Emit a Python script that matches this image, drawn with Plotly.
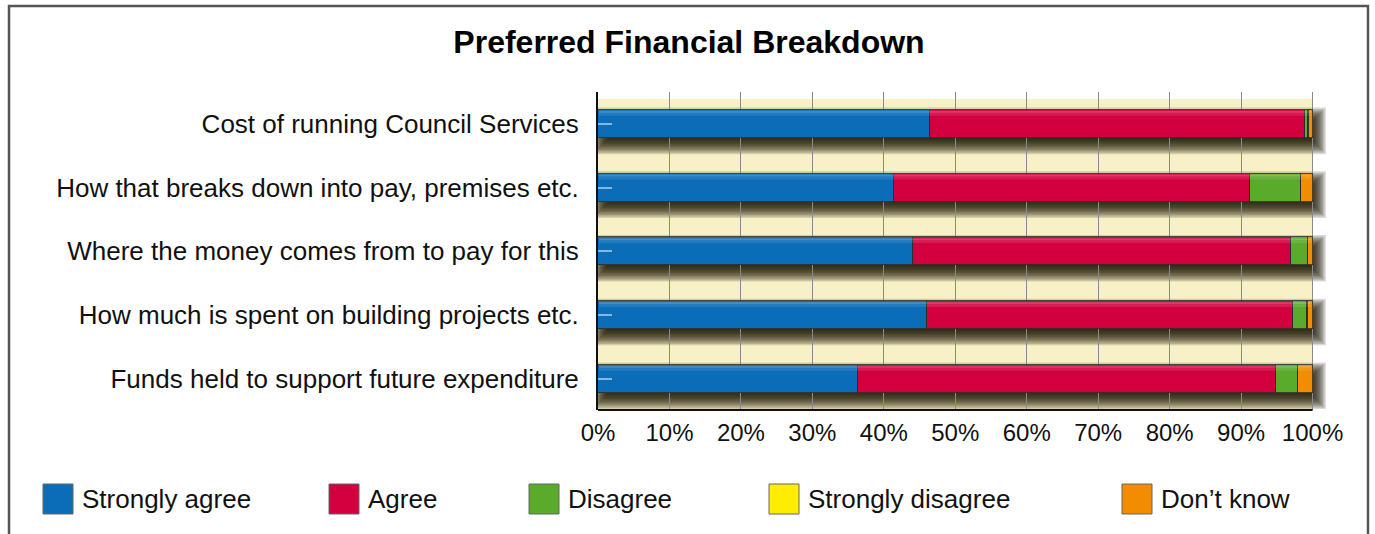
import plotly.graph_objects as go

categories = [
    "Cost of running Council Services",
    "How that breaks down into pay, premises etc.",
    "Where the money comes from to pay for this",
    "How much is spent on building projects etc.",
    "Funds held to support future expenditure",
]
series_names = ["Strongly agree", "Agree", "Disagree", "Strongly disagree", "Don\u2019t know"]
strongly_agree = [46.5, 41.4, 44.1, 46.0, 36.4]
agree = [52.4, 49.9, 52.9, 51.2, 58.5]
disagree = [0.5, 7.1, 2.3, 2.0, 3.0]
strongly_disagree = [0.1, 0.0, 0.1, 0.1, 0.0]
dont_know = [0.5, 1.6, 0.6, 0.7, 2.1]
x_tick_values = [0, 10, 20, 30, 40, 50, 60, 70, 80, 90, 100]
x_tick_labels = ["0%", "10%", "20%", "30%", "40%", "50%", "60%", "70%", "80%", "90%", "100%"]

series_values = [strongly_agree, agree, disagree, strongly_disagree, dont_know]
colors = ["#0b6db7", "#d2003f", "#5aab2b", "#ffed00", "#f28c00"]

W, H = 1375, 534
ML, MR, MT, MB = 598, 41, 92, 124
XMAX = 103.0
YRANGE = [4.49, -0.5]
plot_w = W - ML - MR
plot_h = H - MT - MB
px_per_x = plot_w / XMAX
px_per_cat = plot_h / (YRANGE[0] - YRANGE[1])
BAR_W = 0.44
FONT = "Liberation Sans, Arial, Helvetica, sans-serif"


def xp(px):
    return (px - ML) / plot_w


def yp(py):
    return (H - MB - py) / plot_h


fig = go.Figure()
for name, vals, col in zip(series_names, series_values, colors):
    fig.add_trace(go.Bar(
        y=categories, x=vals, name=name, orientation="h",
        width=BAR_W, marker=dict(color=col, line=dict(color="#2b2b2b", width=0.8)),
        showlegend=False,
    ))

shapes = []
# cream background
shapes.append(dict(type="rect", xref="x", yref="y", x0=0, x1=100,
                   y0=YRANGE[1] + 7 / px_per_cat, y1=YRANGE[0],
                   fillcolor="#f8f0c6", line=dict(width=0), layer="below"))

# soft drop shadows under each bar
totals = [sum(v[i] for v in series_values) for i in range(len(categories))]
dx, dy, B, N = 4.0, 7.0, 10.0, 14
for i, tot in enumerate(totals):
    for k in range(N):
        e = -B + 2 * B * (k + 0.5) / N
        x0 = 0 + (dx - e) / px_per_x
        x1 = tot + (dx + e) / px_per_x
        y0 = i - BAR_W / 2 + (dy - e) / px_per_cat
        y1 = i + BAR_W / 2 + (dy + e) / px_per_cat
        if x1 <= x0 or y1 <= y0:
            continue
        shapes.append(dict(type="rect", xref="x", yref="y", x0=max(x0, 0), x1=x1,
                           y0=y0, y1=y1, fillcolor="rgba(25,20,0,0.16)",
                           line=dict(width=0), layer="below"))

# highlight on top of bars
for i, tot in enumerate(totals):
    top = i - BAR_W / 2
    shapes.append(dict(type="rect", xref="x", yref="y", x0=0.15, x1=tot - 0.15,
                       y0=top + 1 / px_per_cat, y1=top + 3 / px_per_cat,
                       fillcolor="rgba(255,255,255,0.22)", line=dict(width=0), layer="above"))
    shapes.append(dict(type="rect", xref="x", yref="y", x0=0.15, x1=tot - 0.15,
                       y0=top + 3 / px_per_cat, y1=top + 6 / px_per_cat,
                       fillcolor="rgba(255,255,255,0.10)", line=dict(width=0), layer="above"))

# bottom axis line (0 to 100 only)
shapes.append(dict(type="line", xref="x", yref="paper", x0=0, x1=100, y0=0, y1=0,
                   line=dict(color="#111111", width=2), layer="above"))

# outer frame
fx0, fx1, fy0, fy1 = xp(9), xp(1368), yp(6), yp(560)
shapes.append(dict(type="path", xref="paper", yref="paper",
                   path=f"M {fx0},{fy1} L {fx0},{fy0} L {fx1},{fy0} L {fx1},{fy1}",
                   line=dict(color="#555555", width=2.5)))

# legend
legend_px = [43, 329, 529, 769, 1122]
annotations = []
for name, col, lx in zip(series_names, colors, legend_px):
    shapes.append(dict(type="rect", xref="paper", yref="paper",
                       x0=xp(lx), x1=xp(lx + 30), y0=yp(514), y1=yp(484),
                       fillcolor=col, line=dict(color="#666666", width=1)))
    annotations.append(dict(xref="paper", yref="paper", x=xp(lx + 37), y=yp(499),
                            text=name, showarrow=False, xanchor="left", yanchor="middle",
                            font=dict(family=FONT, size=26, color="#111111")))

fig.update_layout(
    width=W, height=H,
    margin=dict(l=ML, r=MR, t=MT, b=MB),
    paper_bgcolor="white", plot_bgcolor="white",
    barmode="stack", bargap=0,
    shapes=shapes, annotations=annotations,
    title=dict(text="<b>Preferred Financial Breakdown</b>", xref="container", yref="container",
               x=689 / W, y=1 - 42 / H, xanchor="center", yanchor="middle",
               font=dict(family=FONT, size=32, color="#000000")),
    xaxis=dict(range=[0, XMAX], tickvals=x_tick_values, ticktext=x_tick_labels,
               showgrid=True, gridcolor="#8a8a8a", gridwidth=1, zeroline=False,
               showline=False, ticks="", ticklabelstandoff=6,
               tickfont=dict(family=FONT, size=24, color="#111111")),
    yaxis=dict(type="category", categoryorder="array", categoryarray=categories,
               range=YRANGE, showgrid=False, zeroline=False,
               showline=True, linecolor="#111111", linewidth=2,
               ticks="inside", ticklen=14, tickcolor="rgba(150,190,230,0.9)", tickwidth=1.5,
               ticklabelstandoff=12,
               tickfont=dict(family=FONT, size=26, color="#111111")),
    font=dict(family=FONT),
)

fig.write_html("out.html", config={"displayModeBar": False},
               post_script="document.body.style.margin='0';document.body.style.overflow='hidden';")
